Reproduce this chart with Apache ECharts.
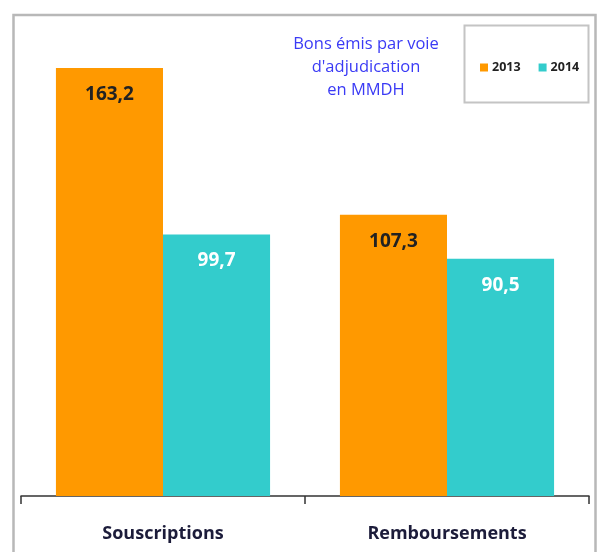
<!DOCTYPE html>
<html><head><meta charset="utf-8">
<script src="https://cdn.jsdelivr.net/npm/echarts@6/dist/echarts.min.js"></script>
<style>html,body{margin:0;padding:0;background:#fff}#c{width:597px;height:552px}</style>
</head><body><div id="c"></div>
<script>
const categories = ['Souscriptions', 'Remboursements'];
const seriesNames = ['2013', '2014'];
const values2013 = [163.2, 107.3];
const values2014 = [99.7, 90.5];
const titleLines = ['Bons émis par voie', "d'adjudication", 'en MMDH'];

const fmt = p => String(p.value).replace('.', ',');
const chart = echarts.init(document.getElementById('c'), null, {renderer: 'canvas'});
chart.setOption({
  animation: false,
  backgroundColor: '#fff',
  title: {
    text: titleLines.join('\n'),
    left: 361, top: 28, textAlign: 'center',
    textStyle: {fontFamily: 'Open Sans', fontSize: 16.5, fontWeight: 'normal', color: '#3a3af5', lineHeight: 23}
  },
  legend: {
    data: seriesNames, left: 475, top: 56, itemWidth: 8, itemHeight: 8, itemGap: 18,
    icon: 'rect',
    textStyle: {fontFamily: 'Open Sans', fontSize: 12.5, fontWeight: 'bold', color: '#222', padding: [0,0,0,-1]}
  },
  graphic: [
    {type: 'rect', shape: {x: 13.5, y: 15, width: 582, height: 560}, style: {fill: 'none', stroke: '#b8b8b8', lineWidth: 2.5}, silent: true},
    {type: 'rect', shape: {x: 464.5, y: 25.5, width: 124, height: 77}, style: {fill: 'none', stroke: '#c4c4c4', lineWidth: 2}, silent: true}
  ],
  grid: {left: 21, right: 8, top: 24, bottom: 56},
  xAxis: {
    type: 'category', data: categories,
    axisLine: {show: true, lineStyle: {color: '#333', width: 1.5}},
    axisTick: {show: true, alignWithLabel: false, interval: 0, length: 8, lineStyle: {color: '#333', width: 1.5}},
    axisLabel: {margin: 29, fontFamily: 'Open Sans', fontSize: 18, fontWeight: 'bold', color: '#1c1c3a'}
  },
  yAxis: {type: 'value', min: 0, max: 180, show: false, splitLine: {show: false}},
  series: [
    {name: '2013', type: 'bar', data: values2013, barGap: 0, barCategoryGap: '24.6%',
     itemStyle: {color: '#ff9900'},
     label: {show: true, position: 'insideTop', distance: 17, formatter: fmt, fontFamily: 'Open Sans', fontSize: 19, fontWeight: 'bold', color: '#222'}},
    {name: '2014', type: 'bar', data: values2014, barGap: 0, barCategoryGap: '24.6%',
     itemStyle: {color: '#33cccc'},
     label: {show: true, position: 'insideTop', distance: 17, formatter: fmt, fontFamily: 'Open Sans', fontSize: 19, fontWeight: 'bold', color: '#fff'}}
  ]
});
</script></body></html>
